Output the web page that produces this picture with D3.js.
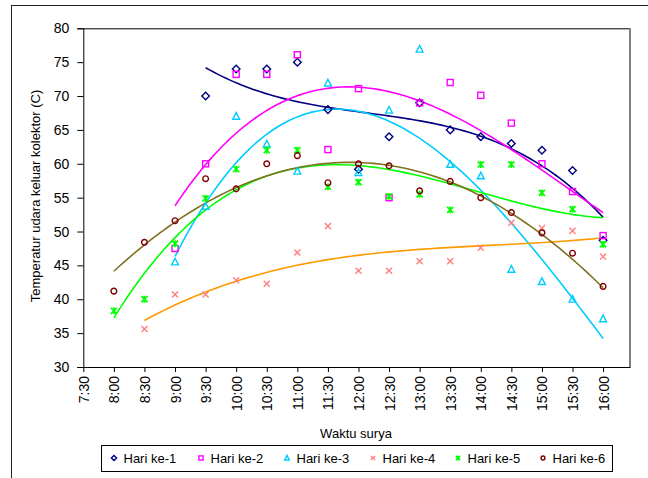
<!DOCTYPE html>
<html><head><meta charset="utf-8">
<script src="https://cdn.jsdelivr.net/npm/d3@7"></script>
<style>body{margin:0;background:#fff}svg{display:block;font-family:"Liberation Sans",Arial,sans-serif}</style>
</head><body>
<svg id="c" width="648" height="478"></svg>
<script>
const timeLabels = ["7:30","8:00","8:30","9:00","9:30","10:00","10:30","11:00","11:30","12:00","12:30","13:00","13:30","14:00","14:30","15:00","15:30","16:00"];
const yTicks = [30,35,40,45,50,55,60,65,70,75,80];
const seriesNames = ["Hari ke-1","Hari ke-2","Hari ke-3","Hari ke-4","Hari ke-5","Hari ke-6"];
const hari1 = [null,null,null,null,70,74,74,75,68,59.2,64,69,65,64,63,62,59,48.7];
const hari2 = [null,null,null,47.5,60,73.2,73.2,76.1,62.1,71.1,55,69,72,70.1,66,60,55.9,49.4];
const hari3 = [null,null,null,45.5,53.7,67,62.9,58.9,71.9,58.7,67.9,76.9,59.9,58.2,44.4,42.6,40,37.1];
const hari4 = [null,null,35.6,40.7,40.7,42.8,42.3,46.9,50.8,44.2,44.2,45.6,45.6,47.6,51.3,50.5,50.1,46.3];
const hari5 = [null,38.3,40,48.2,54.9,59.2,62,62,56.6,57.3,55.2,55.5,53.2,59.9,59.9,55.7,53.3,48.1];
const hari6 = [null,41.2,48.4,51.6,57.8,56.3,60,61.2,57.2,60,59.7,56,57.4,55,52.8,49.8,46.8,41.9];
const trendOrder = [3,3,3,3,3,2];

const seriesData = [hari1,hari2,hari3,hari4,hari5,hari6];
const markerColors = ["#000080","#ff00ff","#00ccff","#ff8080","#00ff00","#800000"];
const trendColors = ["#000080","#ff00ff","#00ccff","#ff9900","#00ff00","#807020"];
const markerTypes = ["diamond","square","triangle","x","star","circle"];

const svg = d3.select("#c");
const L = 83.3, R = 630, T = 28.3, B = 367;
const x = d3.scaleLinear().domain([0, 17.88]).range([L, R]);
const y = d3.scaleLinear().domain([30, 80]).range([B, T]);

// outer frame
svg.append("rect").attr("x",11.5).attr("y",5.5).attr("width",660).attr("height",500)
  .attr("fill","none").attr("stroke","#222").attr("stroke-width",1);

// plot border
svg.append("line").attr("x1",L).attr("x2",R).attr("y1",T+0.5).attr("y2",T+0.5).attr("stroke","#000");
svg.append("line").attr("x1",R).attr("x2",R).attr("y1",T).attr("y2",B+1).attr("stroke","#808080").attr("stroke-width",2);

// polynomial least-squares trendline (as Excel's polynomial trendline)
function polyfit(xs, ys, order){
  const n = order+1, mx = d3.mean(xs);
  const A = Array.from({length:n},()=>new Array(n+1).fill(0));
  xs.forEach((xv,k)=>{const u=xv-mx;
    for(let i=0;i<n;i++){for(let j=0;j<n;j++)A[i][j]+=Math.pow(u,i+j);A[i][n]+=ys[k]*Math.pow(u,i);}});
  for(let i=0;i<n;i++){let p=i;for(let r=i+1;r<n;r++)if(Math.abs(A[r][i])>Math.abs(A[p][i]))p=r;
    [A[i],A[p]]=[A[p],A[i]];
    for(let r=0;r<n;r++){if(r===i)continue;const f=A[r][i]/A[i][i];for(let c=i;c<=n;c++)A[r][c]-=f*A[i][c];}}
  const coef=A.map((row,i)=>row[n]/row[i]);
  return xv=>{const u=xv-mx;let s=0;for(let i=0;i<n;i++)s+=coef[i]*Math.pow(u,i);return s;};
}

seriesData.forEach((arr,si)=>{
  const pts = arr.map((v,i)=>v==null?null:[i,v]).filter(d=>d);
  const f = polyfit(pts.map(d=>d[0]), pts.map(d=>d[1]), trendOrder[si]);
  const x0 = pts[0][0], x1 = pts[pts.length-1][0];
  const samp = d3.range(0,101).map(k=>x0+(x1-x0)*k/100);
  svg.append("path").datum(samp)
    .attr("d", d3.line().x(d=>x(d)).y(d=>y(f(d))))
    .attr("fill","none").attr("stroke",trendColors[si]).attr("stroke-width",1.6);
});

function marker(g, type, color, s){
  const sw = 1.4;
  if(type==="diamond") g.append("path").attr("d",`M0,${-s}L${s},0L0,${s}L${-s},0Z`).attr("fill","none").attr("stroke",color).attr("stroke-width",sw);
  else if(type==="square") g.append("rect").attr("x",-s*0.8).attr("y",-s*0.8).attr("width",s*1.6).attr("height",s*1.6).attr("fill","none").attr("stroke",color).attr("stroke-width",sw);
  else if(type==="triangle") g.append("path").attr("d",`M0,${-s}L${s*0.9},${s*0.75}L${-s*0.9},${s*0.75}Z`).attr("fill","none").attr("stroke",color).attr("stroke-width",sw);
  else if(type==="x") g.append("path").attr("d",`M${-s*0.8},${-s*0.8}L${s*0.8},${s*0.8}M${s*0.8},${-s*0.8}L${-s*0.8},${s*0.8}`).attr("stroke",color).attr("stroke-width",sw);
  else if(type==="star") g.append("path").attr("d",`M${-s*0.8},${-s*0.8}L${s*0.8},${s*0.8}M${s*0.8},${-s*0.8}L${-s*0.8},${s*0.8}M0,${-s*0.9}L0,${s*0.9}`).attr("stroke",color).attr("stroke-width",sw+0.3);
  else if(type==="circle") g.append("circle").attr("r",s*0.75).attr("fill","none").attr("stroke",color).attr("stroke-width",sw);
}

seriesData.forEach((arr,si)=>{
  arr.forEach((v,i)=>{
    if(v==null) return;
    const g = svg.append("g").attr("transform",`translate(${x(i)},${y(v)})`);
    marker(g, markerTypes[si], markerColors[si], 3.8);
  });
});

// y axis
const yAxis = svg.append("g").attr("transform",`translate(${L},0)`)
  .call(d3.axisLeft(y).tickValues(yTicks).tickSize(6).tickPadding(8).tickFormat(d3.format("d")));
yAxis.select(".domain").attr("stroke","#000");
yAxis.selectAll("text").attr("font-size",14).attr("fill","#000").attr("font-family","Liberation Sans, Arial, sans-serif");

// x axis
const xAxis = svg.append("g").attr("transform",`translate(0,${B})`)
  .call(d3.axisBottom(x).tickValues(d3.range(timeLabels.length)).tickSize(5).tickFormat(i=>timeLabels[i]));
xAxis.select(".domain").attr("d",`M${L},0.5H${R}`).attr("stroke","#000");
xAxis.selectAll("text").attr("font-size",14).attr("fill","#000").attr("font-family","Liberation Sans, Arial, sans-serif")
  .attr("text-anchor","end").attr("transform","rotate(-90)").attr("x",-9).attr("y",0).attr("dy","0.36em");

// axis titles
svg.append("text").attr("x",356).attr("y",438).attr("text-anchor","middle").attr("font-size",13).text("Waktu surya");
svg.append("text").attr("transform","translate(40,196) rotate(-90)").attr("text-anchor","middle").attr("font-size",13)
  .text("Temperatur udara keluar kolektor (C)");

// legend
svg.append("rect").attr("x",101.5).attr("y",445.5).attr("width",511).attr("height",26).attr("fill","#fff").attr("stroke","#000");
const legX = [114,201,287,373,458,543];
seriesNames.forEach((nm,si)=>{
  const g = svg.append("g").attr("transform",`translate(${legX[si]},458)`);
  marker(g, markerTypes[si], markerColors[si], 2.6);
  svg.append("text").attr("x",legX[si]+9.5).attr("y",462.5).attr("font-size",13).text(nm);
});
</script>
</body></html>
